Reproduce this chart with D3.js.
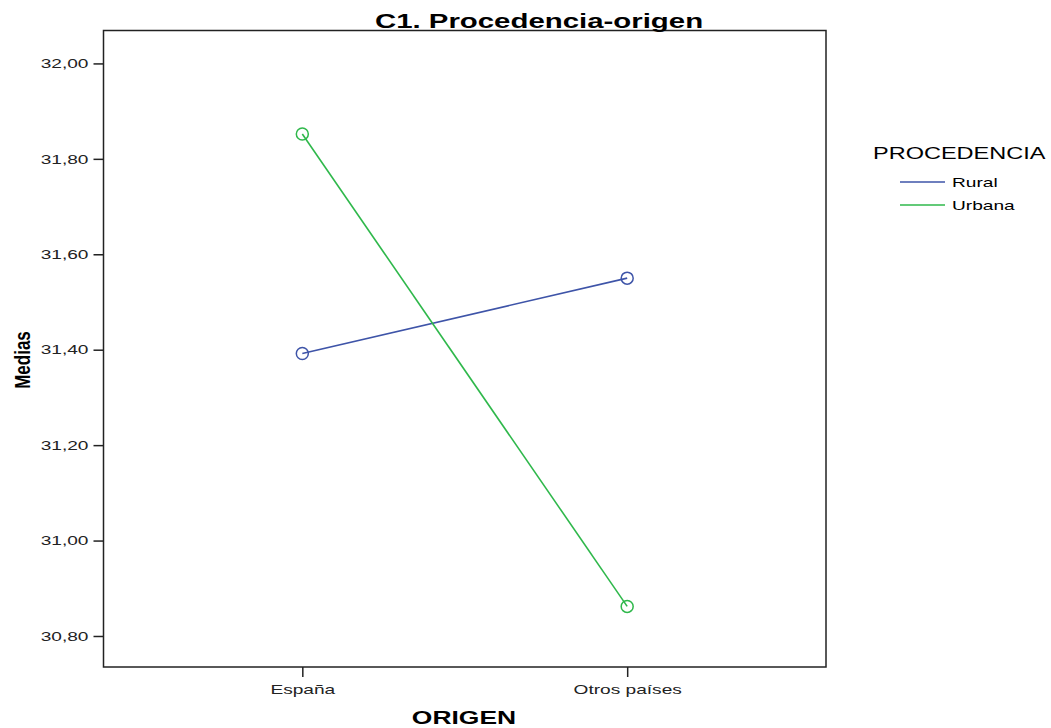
<!DOCTYPE html>
<html>
<head>
<meta charset="utf-8">
<script src="https://cdn.jsdelivr.net/npm/d3@7"></script>
<style>
  body { margin: 0; background: #fff; }
  text { font-family: "Liberation Sans", Arial, sans-serif; }
</style>
</head>
<body>
<script>
// Datos
const origenes = ["España", "Otros países"];
const procedencias = ["Rural", "Urbana"];
const rural = [31.392, 31.55];
const urbana = [31.852, 30.862];
const yTicks = [30.8, 31.0, 31.2, 31.4, 31.6, 31.8, 32.0];
const colores = ["#3e54a8", "#2fb84b"];

const W = 1051, H = 728;
const plot = {left: 103.5, top: 30.5, right: 826, bottom: 667};
const SX = 1.47; // el original tiene el texto estirado en horizontal

const svg = d3.select("body").append("svg")
  .attr("width", W).attr("height", H);

// estira un texto en x alrededor de su punto de anclaje
function estira(sel) {
  sel.each(function() {
    const t = d3.select(this);
    const tx = +t.attr("x") || 0, ty = +t.attr("y") || 0;
    t.attr("x", 0).attr("y", 0)
      .attr("transform", "translate(" + tx + "," + ty + ") scale(" + SX + ",1)");
  });
}

const x = d3.scalePoint()
  .domain(origenes)
  .range([plot.left, plot.right])
  .padding(0.612);

const y = d3.scaleLinear()
  .domain([30.735, 32.069])
  .range([plot.bottom, plot.top]);

// Marco
svg.append("rect")
  .attr("x", plot.left).attr("y", plot.top)
  .attr("width", plot.right - plot.left)
  .attr("height", plot.bottom - plot.top)
  .attr("fill", "none").attr("stroke", "#222").attr("stroke-width", 1.5);

// Eje Y
const yAxis = svg.append("g")
  .attr("transform", "translate(" + plot.left + ",0)")
  .call(d3.axisLeft(y).tickValues(yTicks).tickSize(10).tickPadding(5)
    .tickFormat(d => d3.format(".2f")(d).replace(".", ",")));
yAxis.select(".domain").remove();
yAxis.selectAll("line").attr("stroke", "#222").attr("stroke-width", 1.5);
yAxis.selectAll("text").attr("font-size", 13).attr("fill", "#222")
  .attr("font-family", "Liberation Sans, Arial, sans-serif")
  .call(estira);

// Eje X
const xAxis = svg.append("g")
  .attr("transform", "translate(0," + plot.bottom + ")")
  .call(d3.axisBottom(x).tickSize(10).tickPadding(8));
xAxis.select(".domain").remove();
xAxis.selectAll("line").attr("stroke", "#222").attr("stroke-width", 1.5);
xAxis.selectAll("text").attr("font-size", 13).attr("fill", "#222")
  .attr("font-family", "Liberation Sans, Arial, sans-serif")
  .call(estira);

// Series
const series = [rural, urbana];
const line = d3.line().x((d, i) => x(origenes[i])).y(d => y(d));

series.forEach((s, k) => {
  svg.append("path")
    .datum(s)
    .attr("d", line)
    .attr("fill", "none")
    .attr("stroke", colores[k])
    .attr("stroke-width", 1.6);
  svg.selectAll(".pt" + k)
    .data(s)
    .enter().append("circle")
    .attr("cx", (d, i) => x(origenes[i]))
    .attr("cy", d => y(d))
    .attr("r", 6)
    .attr("fill", "none")
    .attr("stroke", colores[k])
    .attr("stroke-width", 1.5);
});

// Titulos
svg.append("text")
  .attr("x", 539).attr("y", 28)
  .attr("text-anchor", "middle")
  .attr("font-size", 20).attr("font-weight", "bold")
  .text("C1. Procedencia-origen")
  .call(estira);

svg.append("text")
  .attr("x", 464).attr("y", 724)
  .attr("text-anchor", "middle")
  .attr("font-size", 18).attr("font-weight", "bold")
  .text("ORIGEN")
  .call(estira);

svg.append("text")
  .attr("transform", "translate(30,360) rotate(-90) scale(1,1.35)")
  .attr("text-anchor", "middle")
  .attr("font-size", 17).attr("font-weight", "bold")
  .attr("font-family", "Liberation Sans Narrow, Liberation Sans, Arial, sans-serif")
  .text("Medias");

// Leyenda
svg.append("text")
  .attr("x", 873).attr("y", 159)
  .attr("font-size", 16)
  .text("PROCEDENCIA")
  .call(estira);

const leg = svg.selectAll(".leg")
  .data(procedencias)
  .enter().append("g")
  .attr("transform", (d, i) => "translate(900," + (182 + i * 23) + ")");
leg.append("line")
  .attr("x1", 0).attr("x2", 45)
  .attr("stroke", (d, i) => colores[i]).attr("stroke-width", 1.5);
leg.append("text")
  .attr("x", 52).attr("y", 5)
  .attr("font-size", 13)
  .text(d => d)
  .call(estira);
</script>
</body>
</html>
